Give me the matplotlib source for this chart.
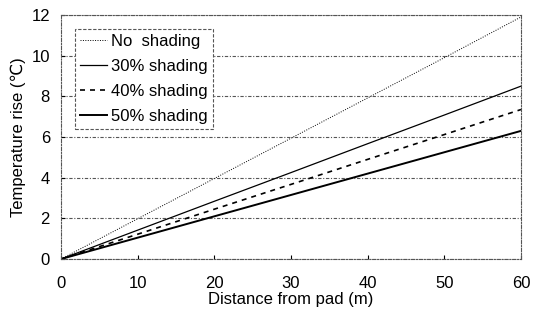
import matplotlib
matplotlib.use('Agg')
import matplotlib.pyplot as plt

plt.rcParams['font.family'] = ['Liberation Sans', 'DejaVu Sans']

# Data
distance = [0, 10, 20, 30, 40, 50, 60]
no_shading = [0, 1.98, 3.96, 5.94, 7.92, 9.9, 11.9]
shading_30 = [0, 1.42, 2.84, 4.25, 5.67, 7.08, 8.5]
shading_40 = [0, 1.22, 2.45, 3.67, 4.9, 6.12, 7.35]
shading_50 = [0, 1.05, 2.1, 3.15, 4.2, 5.25, 6.3]

fig = plt.figure(figsize=(5.33, 3.25), dpi=100)
ax = fig.add_axes([0.1145, 0.203, 0.863, 0.751])

ax.plot(distance, no_shading, color='black', lw=0.7, ls=(0, (1, 1.5)), label='No  shading')
ax.plot(distance, shading_30, color='black', lw=0.9, ls='-', label='30% shading')
ax.plot(distance, shading_40, color='black', lw=1.2, ls=(0, (3, 3)), label='40% shading')
ax.plot(distance, shading_50, color='black', lw=1.4, ls='-', label='50% shading')

ax.set_xlim(0, 60)
ax.set_ylim(0, 12)
ax.set_xticks(range(0, 61, 10))
ax.set_yticks(range(0, 13, 2))
ax.grid(axis='y', color='#555555', lw=0.8, ls=(0, (3, 1.5, 1, 1.5)))
for s in ax.spines.values():
    s.set_color('#555555')
    s.set_linestyle((0, (3, 1.5, 1, 1.5)))
    s.set_linewidth(0.8)
ax.tick_params(direction='in', length=3, labelsize=12, colors='black')
ax.tick_params(axis='x', pad=12)
ax.tick_params(axis='y', pad=8)

ax.set_xlabel('Distance from pad (m)', fontsize=12, labelpad=1)
ax.set_ylabel('Temperature rise (℃)', fontsize=12, labelpad=4)

leg = ax.legend(loc='upper left', bbox_to_anchor=(0.013, 0.977), fontsize=12,
                handlelength=1.6, handletextpad=0.25, labelspacing=0.6,
                borderpad=0.3, fancybox=False, framealpha=1)
leg.get_frame().set_edgecolor('#555555')
leg.get_frame().set_linestyle((0, (3, 1.5)))
leg.get_frame().set_linewidth(0.8)

fig.savefig('out.png', dpi=100)
